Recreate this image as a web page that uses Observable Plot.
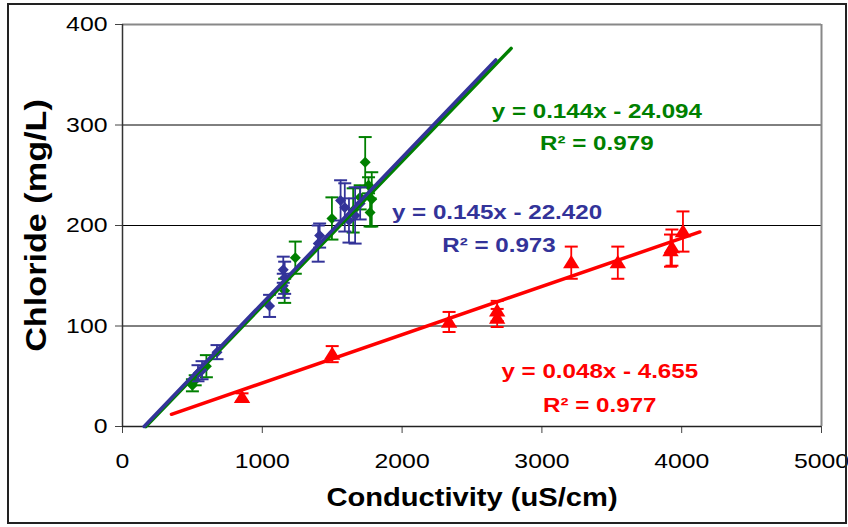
<!DOCTYPE html>
<html>
<head>
<meta charset="utf-8">
<script src="https://cdn.jsdelivr.net/npm/d3@7"></script>
<script src="https://cdn.jsdelivr.net/npm/@observablehq/plot@0.6"></script>
<style>
  html, body { margin: 0; padding: 0; background: #fff; overflow: hidden; }
  #chart { position: relative; width: 848px; height: 527px; }
  #frame { position: absolute; left: 7px; top: 3px; width: 840px; height: 521px;
           border: 2px solid #222; box-sizing: border-box; pointer-events: none; }
</style>
</head>
<body>
<div id="chart"><div id="frame"></div></div>
<script>
// ---- data ----
const xTicks = [0, 1000, 2000, 3000, 4000, 5000];
const yTicks = [0, 100, 200, 300, 400];

const greenConductivity = [500, 520, 600, 1160, 1236, 1498, 1650, 1700, 1736, 1771, 1783, 1760];
const greenChloride     = [41, 46, 60, 135, 168, 207, 215, 228, 263, 213, 226, 240];
const greenError        = [6, 5, 11, 12, 16, 21, 22, 12, 25, 14, 27, 8];

const blueConductivity = [540, 569, 676, 1052, 1150, 1160, 1150, 1400, 1410, 1560, 1590, 1620, 1664, 1700];
const blueChloride     = [53, 56, 74, 120, 156, 148, 140, 182, 190, 225, 218, 205, 210, 222];
const blueError        = [8, 9, 7, 11, 13, 16, 12, 18, 12, 20, 24, 22, 28, 16];

const redConductivity = [855, 1500, 2336, 2680, 2680, 3210, 3543, 3930, 3920, 4009];
const redChloride     = [29, 72, 104, 115, 108, 163, 163, 178, 175, 194];
const redError        = [4, 8, 10, 10, 9, 16, 16, 18, 16, 20];

const fitSeries    = ["green", "blue", "red"];
const fitSlope     = [0.144, 0.145, 0.048];
const fitIntercept = [-24.094, -22.420, -4.655];
const fitXStart    = [167, 155, 350];
const fitXEnd      = [2780, 2670, 4130];
const fitEquation  = ["y = 0.144x - 24.094", "y = 0.145x - 22.420", "y = 0.048x - 4.655"];
const fitR2        = ["R² = 0.979", "R² = 0.973", "R² = 0.977"];

// ---- build tables ----
const table = (xs, ys, es) => xs.map((x, i) => ({x, y: ys[i], e: es[i]}));
const green = table(greenConductivity, greenChloride, greenError);
const blue  = table(blueConductivity, blueChloride, blueError);
const red   = table(redConductivity, redChloride, redError);

const fitLine = (i) => [fitXStart[i], fitXEnd[i]].map(x => ({x, y: fitSlope[i] * x + fitIntercept[i]}));

const COLORS = {green: "#008000", blue: "#333399", red: "#FF0000"};

const capSymbol = { draw(ctx, size) { const r = Math.sqrt(size / Math.PI); ctx.moveTo(-r, 0); ctx.lineTo(r, 0); } };
const diamondSymbol = { draw(ctx, size) { const r = Math.sqrt(size / Math.PI); ctx.moveTo(0, -r); ctx.lineTo(r, 0); ctx.lineTo(0, r); ctx.lineTo(-r, 0); ctx.closePath(); } };
const triSymbol = { draw(ctx, size) { const r = Math.sqrt(size / Math.PI); ctx.moveTo(0, -r * 1.2); ctx.lineTo(r * 1.3, r * 0.9); ctx.lineTo(-r * 1.3, r * 0.9); ctx.closePath(); } };

function seriesMarks(data, color, symbol, r) {
  return [
    Plot.ruleX(data, {x: "x", y1: d => d.y - d.e, y2: d => d.y + d.e, stroke: color, strokeWidth: 1.8}),
    Plot.dot(data, {x: "x", y: d => d.y + d.e, symbol: capSymbol, r: 6.5, stroke: color, strokeWidth: 2}),
    Plot.dot(data, {x: "x", y: d => d.y - d.e, symbol: capSymbol, r: 6.5, stroke: color, strokeWidth: 2}),
    Plot.dot(data, {x: "x", y: "y", symbol, r, fill: color, stroke: "none"})
  ];
}

const eqStyle = {fontWeight: "bold", fontSize: 21, textAnchor: "middle", lineAnchor: "middle"};

const chart = Plot.plot({
  width: 848,
  height: 527,
  marginLeft: 122,
  marginRight: 27,
  marginTop: 24,
  marginBottom: 101,
  style: {fontFamily: "'Liberation Sans', Arial, sans-serif", background: "transparent", color: "#000"},
  x: {domain: [0, 5000], label: null},
  y: {domain: [0, 400], label: null},
  marks: [
    Plot.ruleY(yTicks.filter(v => v > 0 && v < 400), {stroke: "#000", strokeWidth: 1}),
    Plot.ruleY([400], {stroke: "#888", strokeWidth: 2}),
    Plot.ruleX([5000], {y1: 0, y2: 400, stroke: "#888", strokeWidth: 2}),
    Plot.axisY({ticks: yTicks, tickSize: 7, tickPadding: 8, fontSize: 21, stroke: "#444", label: null, tickFormat: d => String(d)}),
    Plot.axisX({ticks: xTicks, tickSize: 7, tickPadding: 20, fontSize: 21, stroke: "#444", label: null, tickFormat: d => String(d)}),
    Plot.ruleX([0], {y1: 0, y2: 400, stroke: "#333", strokeWidth: 1.5}),
    Plot.ruleY([0], {stroke: "#222", strokeWidth: 1.5}),
    ...seriesMarks(green, COLORS.green, diamondSymbol, 5.5),
    ...seriesMarks(blue, COLORS.blue, diamondSymbol, 5.5),
    ...seriesMarks(red, COLORS.red, triSymbol, 6.3),
    Plot.line(fitLine(0), {x: "x", y: "y", stroke: COLORS.green, strokeWidth: 3.5}),
    Plot.line(fitLine(1), {x: "x", y: "y", stroke: COLORS.blue, strokeWidth: 3.5}),
    Plot.line(fitLine(2), {x: "x", y: "y", stroke: COLORS.red, strokeWidth: 3.5}),
    Plot.text([fitEquation[0]], {x: 3393, y: 314, fill: COLORS.green, ...eqStyle}),
    Plot.text([fitR2[0]], {x: 3393, y: 282, fill: COLORS.green, ...eqStyle}),
    Plot.text([fitEquation[1]], {x: 2679, y: 213, fill: COLORS.blue, ...eqStyle}),
    Plot.text([fitR2[1]], {x: 2693, y: 180, fill: COLORS.blue, ...eqStyle}),
    Plot.text([fitEquation[2]], {x: 3414, y: 55, fill: COLORS.red, ...eqStyle}),
    Plot.text([fitR2[2]], {x: 3414, y: 21, fill: COLORS.red, ...eqStyle}),
    Plot.text(["Chloride (mg/L)"], {frameAnchor: "left", dx: -86, rotate: -90, textAnchor: "middle", lineAnchor: "middle", fontWeight: "bold", fontSize: 30, fill: "#000"}),
    Plot.text(["Conductivity (uS/cm)"], {frameAnchor: "bottom", dy: 71, textAnchor: "middle", lineAnchor: "middle", fontWeight: "bold", fontSize: 26, fill: "#000"})
  ]
});

const host = document.getElementById("chart");
host.insertBefore(chart, host.firstChild);

// the reference's lettering is horizontally widened; mimic it
const widen = (t, f) => {
  const L = t.getComputedTextLength();
  if (L > 0) {
    t.setAttribute("textLength", (L * f).toFixed(1));
    t.setAttribute("lengthAdjust", "spacingAndGlyphs");
  }
};
chart.querySelectorAll("text").forEach(t => {
  const s = t.textContent;
  if (s === "Chloride (mg/L)") widen(t, 1.14);
  else if (s === "Conductivity (uS/cm)") widen(t, 1.12);
  else if (s.startsWith("y =") || s.startsWith("R")) widen(t, 1.15);
  else widen(t, 1.18);
});
</script>
</body>
</html>
